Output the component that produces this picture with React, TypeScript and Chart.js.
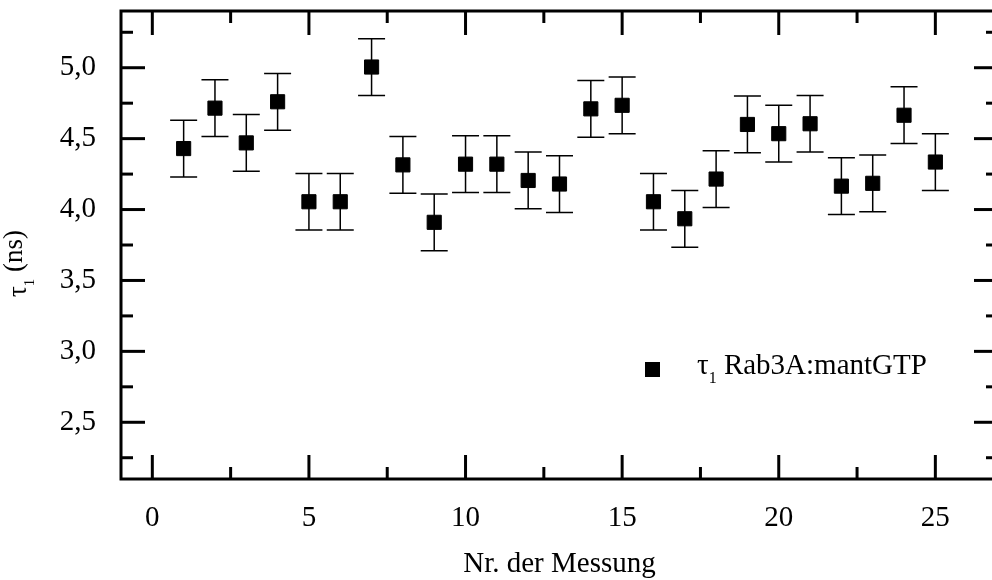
import React, { useEffect, useRef } from "react";
import { Chart, registerables } from "chart.js";

Chart.register(...registerables);

// ---- data ----
const measurementNumbers = [1, 2, 3, 4, 5, 6, 7, 8, 9, 10, 11, 12, 13, 14, 15, 16, 17, 18, 19, 20, 21, 22, 23, 24, 25];
const tauValues = [4.43, 4.715, 4.47, 4.76, 4.055, 4.055, 5.005, 4.315, 3.91, 4.32, 4.32, 4.205, 4.18, 4.71, 4.735, 4.055, 3.935, 4.215, 4.6, 4.535, 4.605, 4.165, 4.185, 4.665, 4.335];
const tauErrors = [0.2, 0.2, 0.2, 0.2, 0.2, 0.2, 0.2, 0.2, 0.2, 0.2, 0.2, 0.2, 0.2, 0.2, 0.2, 0.2, 0.2, 0.2, 0.2, 0.2, 0.2, 0.2, 0.2, 0.2, 0.2];

const xMajorTicks = [0, 5, 10, 15, 20, 25];
const xMinorTicks = [2.5, 7.5, 12.5, 17.5, 22.5];
const yMajorTicks = [2.5, 3.0, 3.5, 4.0, 4.5, 5.0];
const yMinorTicks = [2.25, 2.75, 3.25, 3.75, 4.25, 4.75, 5.25];

const xTitle = "Nr. der Messung";
const yTitleSymbol = "τ";
const yTitleSub = "1";
const yTitleRest = " (ns)";
const legendSymbol = "τ";
const legendSub = "1";
const legendText = " Rab3A:mantGTP";

const FONT = '"Liberation Serif", "Times New Roman", Times, serif';
const FS = 29;

const framePlugin = {
  id: "frameAndErrors",
  beforeDatasetsDraw(chart: any) {
    const { ctx, scales } = chart;
    const x = scales.x;
    const y = scales.y;
    ctx.save();
    ctx.strokeStyle = "#000";
    ctx.lineWidth = 1.5;
    const cap = 13.5;
    tauValues.forEach((v, i) => {
      const px = x.getPixelForValue(measurementNumbers[i]);
      const top = y.getPixelForValue(v + tauErrors[i]);
      const bot = y.getPixelForValue(v - tauErrors[i]);
      ctx.beginPath();
      ctx.moveTo(px, top);
      ctx.lineTo(px, bot);
      ctx.moveTo(px - cap, top);
      ctx.lineTo(px + cap, top);
      ctx.moveTo(px - cap, bot);
      ctx.lineTo(px + cap, bot);
      ctx.stroke();
    });
    ctx.restore();
  },
  afterDraw(chart: any) {
    const { ctx, chartArea: a, scales } = chart;
    const x = scales.x;
    const y = scales.y;
    ctx.save();
    ctx.strokeStyle = "#000";
    ctx.fillStyle = "#000";
    ctx.lineWidth = 3;
    ctx.lineCap = "butt";
    ctx.strokeRect(a.left, a.top, a.right - a.left, a.bottom - a.top);

    const seg = (x1: number, y1: number, x2: number, y2: number) => {
      ctx.beginPath();
      ctx.moveTo(x1, y1);
      ctx.lineTo(x2, y2);
      ctx.stroke();
    };
    const MAJOR = 24;
    const MINOR = 12;
    const xTicks = (vals: number[], len: number) =>
      vals.forEach((v) => {
        const p = x.getPixelForValue(v);
        seg(p, a.bottom, p, a.bottom - len);
        seg(p, a.top, p, a.top + len);
      });
    const yTicks = (vals: number[], len: number) =>
      vals.forEach((v) => {
        const p = y.getPixelForValue(v);
        seg(a.left, p, a.left + len, p);
        seg(a.right, p, a.right - len, p);
      });
    xTicks(xMajorTicks, MAJOR);
    xTicks(xMinorTicks, MINOR);
    yTicks(yMajorTicks, MAJOR);
    yTicks(yMinorTicks, MINOR);

    // x title
    ctx.font = `${FS}px ${FONT}`;
    ctx.textAlign = "center";
    ctx.textBaseline = "alphabetic";
    ctx.fillText(xTitle, (a.left + a.right) / 2, 572);

    // y title (rotated)
    ctx.save();
    ctx.translate(22, 297);
    ctx.rotate(-Math.PI / 2);
    ctx.textAlign = "left";
    ctx.font = `27px ${FONT}`;
    ctx.fillText(yTitleSymbol, 0, 4);
    let w = ctx.measureText(yTitleSymbol).width;
    ctx.font = `15px ${FONT}`;
    ctx.fillText(yTitleSub, w, 12);
    w += ctx.measureText(yTitleSub).width;
    ctx.font = `27px ${FONT}`;
    ctx.fillText(yTitleRest, w, 0);
    ctx.restore();

    // legend
    ctx.fillRect(645, 362, 15, 15);
    ctx.textAlign = "left";
    ctx.font = `${FS}px ${FONT}`;
    ctx.fillText(legendSymbol, 697, 373.5);
    let lw = ctx.measureText(legendSymbol).width;
    ctx.font = `16px ${FONT}`;
    ctx.fillText(legendSub, 697 + lw, 383);
    lw += ctx.measureText(legendSub).width;
    ctx.font = `${FS}px ${FONT}`;
    ctx.fillText(legendText, 697 + lw, 373.5);
    ctx.restore();
  },
};

const zeroPad = (s: any) => {
  s.paddingTop = 0;
  s.paddingBottom = 0;
  s.paddingLeft = 0;
  s.paddingRight = 0;
};

export default function App() {
  const canvasRef = useRef<HTMLCanvasElement | null>(null);

  useEffect(() => {
    const canvas = canvasRef.current;
    if (!canvas) return;
    const chart = new Chart(canvas, {
      type: "scatter",
      data: {
        datasets: [
          {
            label: "τ1 Rab3A:mantGTP",
            data: measurementNumbers.map((n, i) => ({ x: n, y: tauValues[i] })),
            pointStyle: "rect",
            pointRadius: 10,
            pointHoverRadius: 10,
            backgroundColor: "#000",
            borderColor: "#000",
            borderWidth: 1,
            showLine: false,
          },
        ],
      },
      options: {
        animation: false,
        responsive: false,
        maintainAspectRatio: false,
        devicePixelRatio: 1,
        layout: { padding: { top: 10, right: 12, left: 0, bottom: 0 } },
        plugins: {
          legend: { display: false },
          tooltip: { enabled: false },
        },
        events: [],
        scales: {
          x: {
            type: "linear",
            position: "bottom",
            min: -1,
            max: 27,
            grid: { display: false, drawTicks: false },
            border: { display: false },
            ticks: {
              color: "#000",
              font: { family: FONT, size: FS },
              padding: 22,
              autoSkip: false,
              maxRotation: 0,
              callback: (v: any) => String(v),
            },
            afterBuildTicks: (s: any) => {
              s.ticks = xMajorTicks.map((v) => ({ value: v }));
            },
            afterFit: (s: any) => {
              s.height = 101;
              zeroPad(s);
            },
          },
          y: {
            type: "linear",
            position: "left",
            min: 2.1,
            max: 5.4,
            grid: { display: false, drawTicks: false },
            border: { display: false },
            ticks: {
              color: "#000",
              font: { family: FONT, size: FS },
              padding: 25,
              autoSkip: false,
              callback: (v: any) => Number(v).toFixed(1).replace(".", ","),
            },
            afterBuildTicks: (s: any) => {
              s.ticks = yMajorTicks.map((v) => ({ value: v }));
            },
            afterFit: (s: any) => {
              s.width = 121;
              zeroPad(s);
            },
          },
        },
      } as any,
      plugins: [framePlugin],
    });
    return () => chart.destroy();
  }, []);

  return (
    <div
      style={{
        position: "absolute",
        left: 0,
        top: 0,
        width: 992,
        height: 580,
        overflow: "hidden",
        background: "#fff",
      }}
    >
      <canvas ref={canvasRef} width={1010} height={580} style={{ display: "block", width: 1010, height: 580 }} />
    </div>
  );
}
